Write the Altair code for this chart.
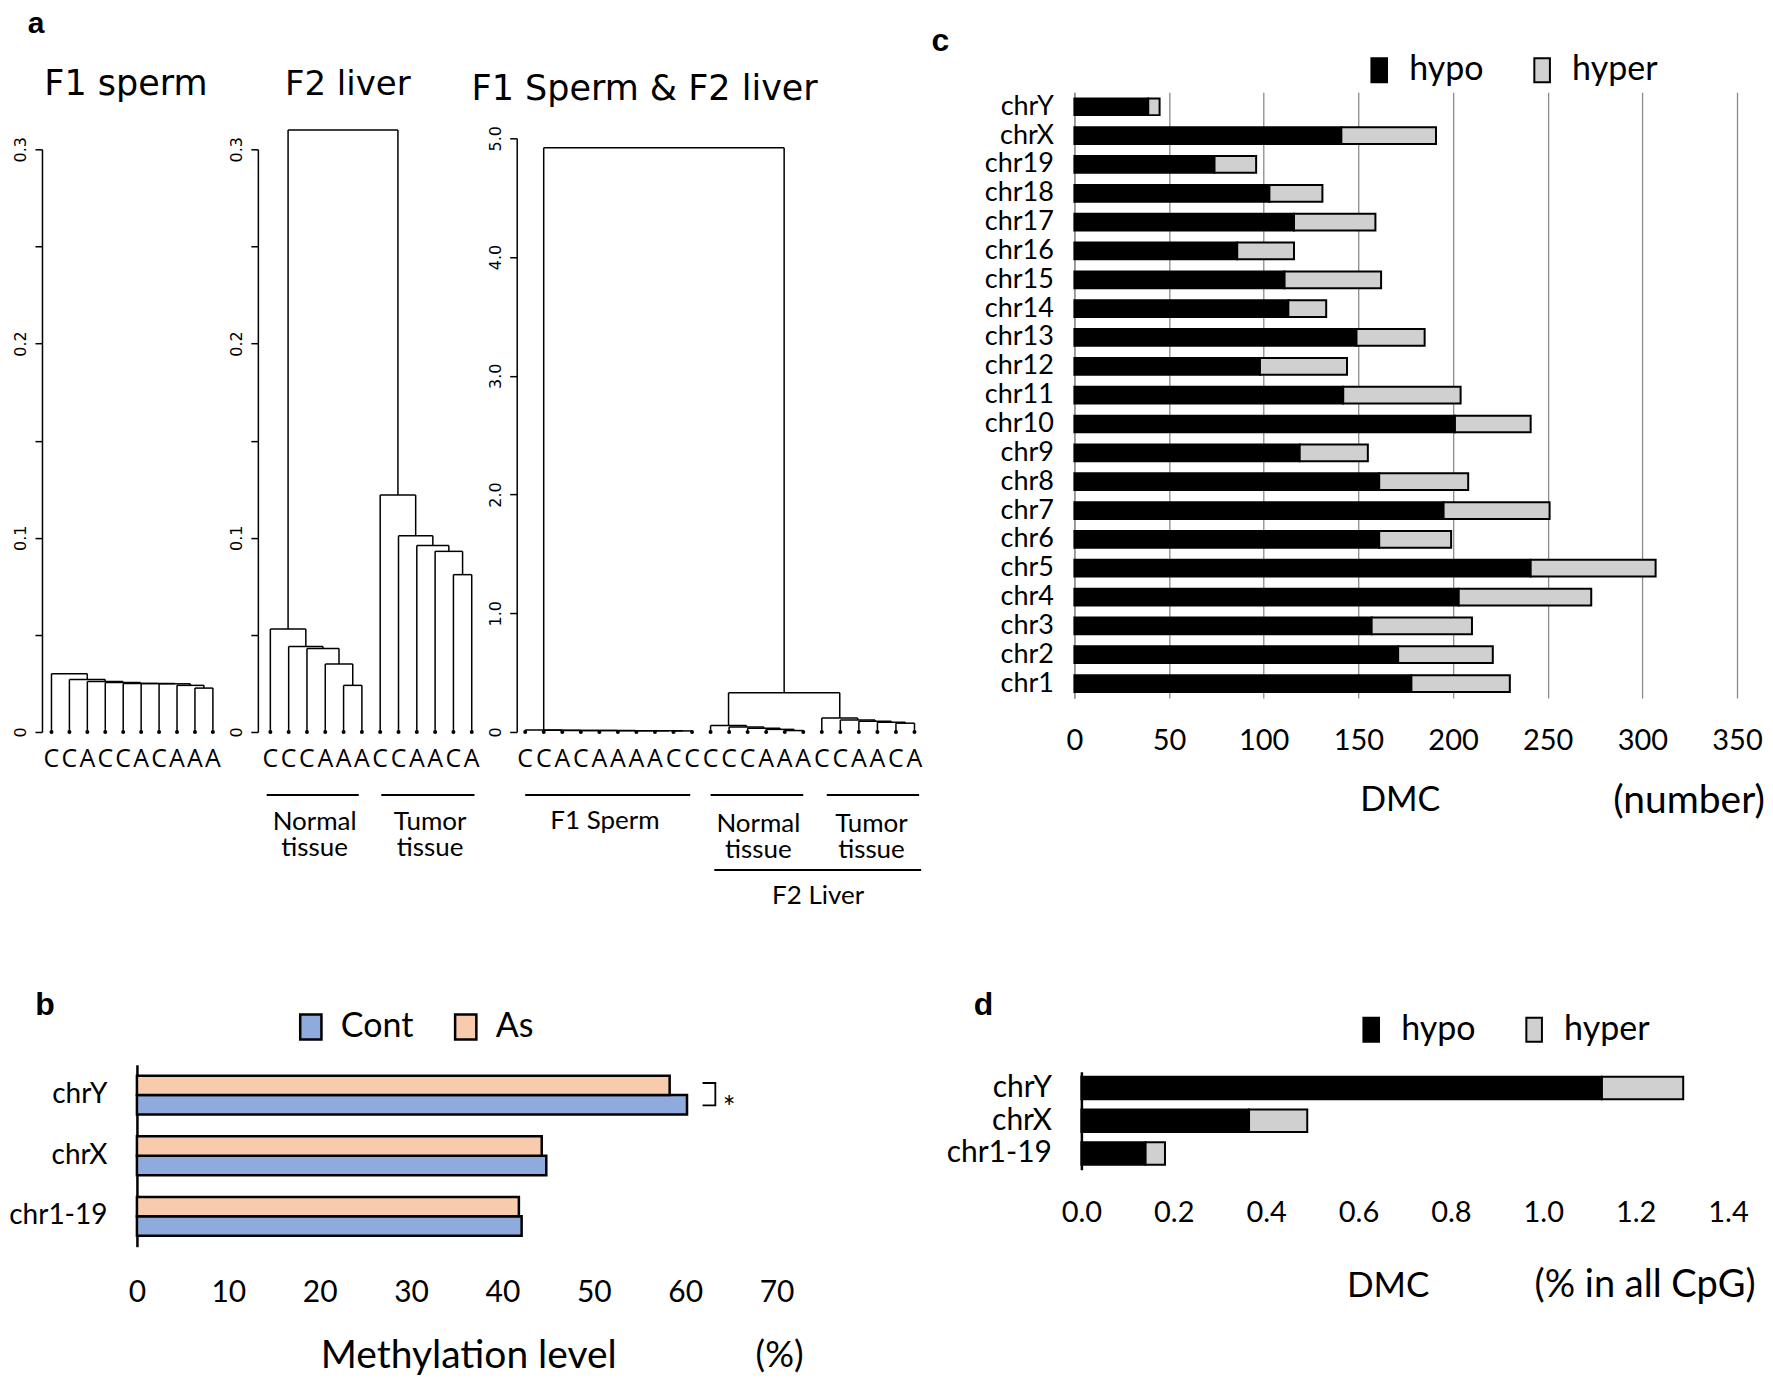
import altair as alt
import pandas as pd

# ---------------- data ----------------
# panel a : dendrograms (leaf labels, merge heights listed outermost first)
a1_labels = list("CCACCACAAA")
a1_heights = [0.030, 0.027, 0.026, 0.0255, 0.025, 0.025, 0.0248, 0.024, 0.0226]

a2_labels = list("CCCAAACCAACA")
a2_normal_heights = [0.053, 0.044, 0.043, 0.035, 0.024]
a2_tumor_heights = [0.122, 0.101, 0.096, 0.093, 0.081]
a2_top = 0.31

a3_labels = list("CCACAAAACC") + list("CCCAAACCAACA")
a3_sperm_heights = [0.016, 0.014, 0.013, 0.012, 0.012, 0.011, 0.011, 0.010, 0.009]
a3_normal_heights = [0.054, 0.042, 0.032, 0.022, 0.012]
a3_tumor_heights = [0.118, 0.100, 0.090, 0.082, 0.074]
a3_liver = 0.33
a3_top = 4.92

# panel b : methylation level (%)
b_chroms = ["chrY", "chrX", "chr1-19"]
b_cont = [60.2, 44.8, 42.1]
b_as = [58.3, 44.3, 41.8]

# panel c : DMC numbers per chromosome
c_chroms = ["chrY", "chrX", "chr19", "chr18", "chr17", "chr16", "chr15", "chr14", "chr13",
            "chr12", "chr11", "chr10", "chr9", "chr8", "chr7", "chr6", "chr5", "chr4",
            "chr3", "chr2", "chr1"]
c_hypo = [39, 141, 74, 103, 116, 86, 111, 113, 149, 98, 142, 201, 119, 161, 195, 161, 241, 203, 157, 171, 178]
c_hyper = [6, 50, 22, 28, 43, 30, 51, 20, 36, 46, 62, 40, 36, 47, 56, 38, 66, 70, 53, 50, 52]

# panel d : DMC (% in all CpG)
d_chroms = ["chrY", "chrX", "chr1-19"]
d_hypo = [1.127, 0.363, 0.139]
d_hyper = [0.176, 0.126, 0.042]

LATO = "Lato"
ARIAL = "Liberation Sans"
GRID = "#8c8c8c"


# ---------------- helpers ----------------
def chain(leaves, heights):
    node = leaves[-1]
    for leaf, h in zip(reversed(leaves[:-1]), reversed(heights)):
        node = (h, leaf, node)
    return node


def walk(node, segs):
    if not isinstance(node, tuple):
        return float(node), 0.0
    h, a, b = node
    xa, ya = walk(a, segs)
    xb, yb = walk(b, segs)
    segs.append(dict(x=xa, y=ya, x2=xa, y2=h))
    segs.append(dict(x=xb, y=yb, x2=xb, y2=h))
    segs.append(dict(x=xa, y=h, x2=xb, y2=h))
    return (xa + xb) / 2.0, h


def label(text, x, y, size, font=LATO, weight="normal", align="center", baseline="alphabetic"):
    return alt.Chart(pd.DataFrame({"t": [text]})).mark_text(
        font=font, fontSize=size, fontWeight=weight, align=align,
        baseline=baseline, color="black").encode(
        x=alt.value(x), y=alt.value(y), text="t:N")


def dendro(tree, labels, ymax, yticks, lab_expr, xrange, yrange, extras, axis_offset=0):
    segs = []
    walk(tree, segs)
    seg_df = pd.DataFrame(segs)
    n = len(labels)
    leaf_df = pd.DataFrame({"i": list(range(1, n + 1)), "lab": labels, "h": [0.0] * n})
    xs = alt.Scale(domain=[1, n], range=xrange, nice=False, zero=False)
    ys = alt.Scale(domain=[0, ymax], range=yrange, nice=False, zero=False)
    yax = alt.Axis(values=yticks, labelExpr=lab_expr, title=None, grid=False, orient="left",
                   offset=axis_offset,
                   domainColor="black", domainWidth=1.5, tickColor="black", tickWidth=1.5,
                   tickSize=7, labelAngle=270, labelAlign="center", labelBaseline="bottom",
                   labelFont="DejaVu Sans", labelFontSize=16, labelColor="black",
                   labelPadding=6, labelFlush=False, labelOverlap=False, labelBound=False)
    lines = alt.Chart(seg_df).mark_rule(color="black", strokeWidth=1.5).encode(
        x=alt.X("x:Q", scale=xs, axis=None), x2="x2:Q",
        y=alt.Y("y:Q", scale=ys, axis=yax), y2="y2:Q")
    dots = alt.Chart(leaf_df).mark_circle(color="black", size=16, opacity=1).encode(
        x=alt.X("i:Q", scale=xs, axis=None), y=alt.Y("h:Q", scale=ys, axis=yax))
    letters = alt.Chart(leaf_df).mark_text(font="Open Sans", fontSize=25, dy=27,
                                           baseline="middle", color="black").encode(
        x=alt.X("i:Q", scale=xs, axis=None), y=alt.Y("h:Q", scale=ys, axis=yax),
        text="lab:N")
    layers = [lines, dots, letters]
    for kind, df in extras:
        if kind == "rule":
            layers.append(alt.Chart(df).mark_rule(color="black", strokeWidth=2).encode(
                x=alt.X("x:Q", scale=xs, axis=None), x2="x2:Q", y=alt.value(df["py"].iloc[0])))
        else:
            layers.append(alt.Chart(df).mark_text(font=LATO, fontSize=26, lineBreak="\n",
                                                  lineHeight=26, baseline="alphabetic",
                                                  color="black").encode(
                x=alt.X("cx:Q", scale=xs, axis=None), y=alt.value(df["py"].iloc[0]),
                text="lab:N"))
    return alt.layer(*layers)


def independent(layer):
    return layer.resolve_scale(x="independent", y="independent", color="independent"
                               ).resolve_legend(color="independent")


tick_expr_small = ("datum.value == 0 ? '0' : (abs(datum.value*10 - round(datum.value*10)) < 0.001 "
                   "? format(datum.value, '.1f') : '')")
tick_expr_big = "datum.value == 0 ? '0' : format(datum.value, '.1f')"

small_ticks = [0, 0.05, 0.1, 0.15, 0.2, 0.25, 0.3]
big_ticks = [0, 1, 2, 3, 4, 5]

# ---------------- panel a trees ----------------
a1_tree = chain(list(range(1, 11)), a1_heights)
a2_tree = (a2_top, chain(list(range(1, 7)), a2_normal_heights),
           chain(list(range(7, 13)), a2_tumor_heights))
a3_tree = (a3_top, chain(list(range(1, 11)), a3_sperm_heights),
           (a3_liver, chain(list(range(11, 17)), a3_normal_heights),
            chain(list(range(17, 23)), a3_tumor_heights)))

# view 1 : F1 sperm dendrogram + panel b (view origin = panel b plot origin)
a1_d = dendro(a1_tree, a1_labels, 0.3, small_ticks, tick_expr_small,
              [-85.5, 76], [640, 57], [], axis_offset=95)

b_df = pd.DataFrame({"chrom": b_chroms * 2, "grp": ["Cont"] * 3 + ["As"] * 3,
                     "bval": b_cont + b_as})
b_x = alt.Scale(domain=[0, 70], range=[0, 640], nice=False)
b_y_px = [973, 1155]
b_bars = alt.Chart(b_df).mark_bar(stroke="black", strokeWidth=2.5).encode(
    y=alt.Y("chrom:N", sort=b_chroms,
            scale=alt.Scale(paddingInner=0.36, paddingOuter=0.18, range=b_y_px),
            axis=alt.Axis(title=None, orient="left", ticks=False, tickSize=0,
                          domainColor="black", domainWidth=2.5, labelFont=LATO,
                          labelFontSize=28, labelColor="black", labelPadding=30)),
    yOffset=alt.YOffset("grp:N", sort=["As", "Cont"]),
    x=alt.X("bval:Q", scale=b_x,
            axis=alt.Axis(values=list(range(0, 71, 10)), orient="bottom", offset=515,
                          grid=True, gridColor=GRID, gridWidth=1.3, domain=False,
                          ticks=False, tickSize=0, labelFont=LATO, labelFontSize=30,
                          labelColor="black", labelPadding=31, labelFlush=False, title=None)),
    color=alt.Color("grp:N", scale=alt.Scale(domain=["Cont", "As"],
                                             range=["#8faadc", "#f8cbad"]),
                    legend=alt.Legend(title=None, orient="none", legendX=157, legendY=918,
                                      direction="horizontal",
                                      symbolType="M-0.85,-1H0.85V1H-0.85Z", symbolSize=625,
                                      symbolStrokeColor="black", symbolStrokeWidth=2.5,
                                      symbolOpacity=1, labelFont=LATO, labelFontSize=34,
                                      labelColor="black", labelOffset=13, columnPadding=35)))
br_y = alt.Scale(domain=[0, 3], range=b_y_px, nice=False, zero=False)
br_df = pd.DataFrame({"bx": [61.9, 63.3, 63.3, 61.9], "by": [0.30, 0.30, 0.67, 0.67],
                      "o": [0, 1, 2, 3]})
bracket = alt.Chart(br_df).mark_line(color="black", strokeWidth=1.8).encode(
    x=alt.X("bx:Q", scale=b_x, axis=None), y=alt.Y("by:Q", scale=br_y, axis=None),
    order="o:Q")
star = alt.Chart(pd.DataFrame({"sx": [64.8], "sy": [0.62], "t": ["*"]})).mark_text(
    font=LATO, fontSize=30, baseline="middle", dy=7, color="black").encode(
    x=alt.X("sx:Q", scale=b_x, axis=None), y=alt.Y("sy:Q", scale=br_y, axis=None), text="t:N")

view1 = independent(alt.layer(
    a1_d, b_bars, bracket, star,
    label("a", -101, -59, 30, font=ARIAL, weight="bold"),
    label("F1 sperm", -11, 3, 35, font="DejaVu Sans"),
    label("b", -92, 923, 32, font=ARIAL, weight="bold"),
    label("Methylation level", 332, 1264, 39, baseline="middle"),
    label("(%)", 643, 1264, 36, baseline="middle"),
    alt.Chart(pd.DataFrame({"t": [0]})).mark_square(size=1, color="white", opacity=1).encode(
        x=alt.value(-128.5), y=alt.value(-83.5)),
)).properties(width=121, height=640)

# view 2 : F2 liver dendrogram
a2_extra = [
    ("rule", pd.DataFrame({"x": [0.8, 7.06], "x2": [5.83, 12.15], "py": [703, 703]})),
    ("text", pd.DataFrame({"cx": [3.42, 9.73], "lab": ["Normal\ntissue", "Tumor\ntissue"],
                           "py": [738, 738]})),
]
a2_d = dendro(a2_tree, a2_labels, 0.3, small_ticks, tick_expr_small,
              [12.5, 214], [640, 57], a2_extra)
view2 = alt.layer(a2_d, label("F2 liver", 90, 3, 34, font="DejaVu Sans")
                  ).properties(width=259, height=640)

# view 3 : combined dendrogram
a3_extra = [
    ("rule", pd.DataFrame({"x": [1.0, 11.0, 17.27], "x2": [9.9, 16.0, 22.25], "py": [703] * 3})),
    ("rule", pd.DataFrame({"x": [11.2], "x2": [22.36], "py": [778]})),
    ("text", pd.DataFrame({"cx": [5.3], "lab": ["F1 Sperm"], "py": [737]})),
    ("text", pd.DataFrame({"cx": [13.58, 19.68], "lab": ["Normal\ntissue", "Tumor\ntissue"],
                           "py": [740, 740]})),
    ("text", pd.DataFrame({"cx": [16.8], "lab": ["F2 Liver"], "py": [812]})),
]
a3_d = dendro(a3_tree, a3_labels, 5.0, big_ticks, tick_expr_big,
              [8.5, 398], [640, 46], a3_extra)
view3 = alt.layer(a3_d, label("F1 Sperm & F2 liver", 128, 7.5, 35, font="DejaVu Sans")
                  ).properties(width=565, height=640)

# view 4 : panel c + panel d (view origin = panel d plot left, panel c plot top)
stack_legend = dict(title=None, orient="none", direction="horizontal",
                    symbolType="M-0.65,-1H0.65V1H-0.65Z", symbolSize=576,
                    symbolStrokeColor="black", symbolStrokeWidth=2, symbolOpacity=1,
                    labelFont=LATO, labelFontSize=34, labelColor="black",
                    labelOffset=13, columnPadding=41)
c_df = pd.DataFrame({"chrom": c_chroms * 2,
                     "type": ["hypo"] * len(c_chroms) + ["hyper"] * len(c_chroms),
                     "cval": c_hypo + c_hyper,
                     "ord": [0] * len(c_chroms) + [1] * len(c_chroms)})
c_bars = alt.Chart(c_df).mark_bar(stroke="black", strokeWidth=2).encode(
    y=alt.Y("chrom:N", sort=c_chroms,
            scale=alt.Scale(paddingInner=0.42, paddingOuter=0.21, range=[0, 606]),
            axis=alt.Axis(title=None, orient="left", offset=7, ticks=False, tickSize=0,
                          domainColor=GRID, domainWidth=1.3, labelFont=LATO, labelFontSize=27,
                          labelColor="black", labelPadding=21)),
    x=alt.X("cval:Q", stack="zero",
            scale=alt.Scale(domain=[0, 350], range=[-7, 656], nice=False),
            axis=alt.Axis(values=list(range(0, 351, 50)), orient="bottom", grid=True,
                          gridColor=GRID, gridWidth=1.3, domain=False, ticks=False,
                          tickSize=0, labelFont=LATO, labelFontSize=29, labelColor="black",
                          labelPadding=29, labelFlush=False, title=None)),
    color=alt.Color("type:N", scale=alt.Scale(domain=["hypo", "hyper"],
                                              range=["black", "#d0d0d0"]),
                    legend=alt.Legend(legendX=281, legendY=-39, **stack_legend)),
    order=alt.Order("ord:Q"))

d_df = pd.DataFrame({"chrom": d_chroms * 2, "type": ["hypo"] * 3 + ["hyper"] * 3,
                     "dval": d_hypo + d_hyper, "ord": [0] * 3 + [1] * 3})
d_bars = alt.Chart(d_df).mark_bar(stroke="black", strokeWidth=2).encode(
    y=alt.Y("chrom:N", sort=d_chroms,
            scale=alt.Scale(paddingInner=0.31, paddingOuter=0.155, range=[980, 1078]),
            axis=alt.Axis(title=None, orient="left", ticks=False, tickSize=0,
                          domainColor="black", domainWidth=2.5, labelFont=LATO,
                          labelFontSize=30, labelColor="black", labelPadding=30)),
    x=alt.X("dval:Q", stack="zero",
            scale=alt.Scale(domain=[0, 1.4], range=[0, 647], nice=False),
            axis=alt.Axis(values=[0, 0.2, 0.4, 0.6, 0.8, 1.0, 1.2, 1.4], format=".1f",
                          orient="bottom", offset=472,
                          grid=True, gridColor=GRID, gridWidth=1.3, domain=False,
                          ticks=False, tickSize=0, labelFont=LATO, labelFontSize=29,
                          labelColor="black", labelPadding=29, labelFlush=False, title=None)),
    color=alt.Color("type:N", scale=alt.Scale(domain=["hypo", "hyper"],
                                              range=["black", "#d0d0d0"]),
                    legend=alt.Legend(legendX=273, legendY=921, **stack_legend)),
    order=alt.Order("ord:Q"))

view4 = independent(alt.layer(
    c_bars, d_bars,
    label("c", -141, -41, 32, font=ARIAL, weight="bold"),
    label("DMC", 319, 709, 34, baseline="middle"),
    label("(number)", 608, 709, 39, baseline="middle"),
    label("d", -98, 923, 32, font=ARIAL, weight="bold"),
    label("DMC", 307, 1194, 35, baseline="middle"),
    label("(% in all CpG)", 564, 1194, 38, baseline="middle"),
)).properties(width=656, height=606)

chart = alt.hconcat(view1, view2, view3, view4, spacing=0, bounds="flush").resolve_scale(
    x="independent", y="independent", color="independent").resolve_legend(
    color="independent").properties(padding=0).configure_view(stroke=None)

chart.save("out.html", embed_options={"renderer": "svg", "actions": False})
